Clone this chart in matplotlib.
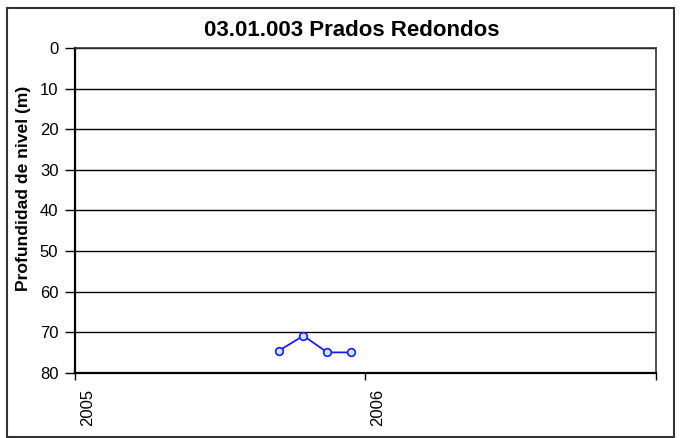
import numpy as np
import pandas as pd
import matplotlib
matplotlib.use('Agg')
import matplotlib.pyplot as plt
import matplotlib.transforms as mtransforms
from matplotlib.patches import Rectangle

plt.rcParams['font.family'] = ['Liberation Sans', 'DejaVu Sans']

title = '03.01.003 Prados Redondos'
ylabel = 'Profundidad de nivel (m)'

dates = ['2005-09-14', '2005-10-15', '2005-11-14', '2005-12-14']
depths = [74.6, 70.9, 75.0, 75.0]

x_ticks = ['2005-01-01', '2006-01-01', '2007-01-01']
x_ticklabels = ['2005', '2006', '']
y_ticks = [0, 10, 20, 30, 40, 50, 60, 70, 80]

dates = pd.to_datetime(dates)
x_ticks = pd.to_datetime(x_ticks)

fig = plt.figure(figsize=(6.83, 4.38), dpi=100)
ax = fig.add_axes([75/683, 1 - 372.7/438, (656 - 75)/683, (372.7 - 48)/438])

for y in y_ticks[:-1]:
    ax.axhline(y, color='black', linewidth=1.0, zorder=1)

ax.plot(dates, depths, color='#1a1aff', linewidth=1.3, marker='o', markersize=5.5,
        markerfacecolor='#c8ecff', markeredgecolor='#1a1aff', markeredgewidth=1.2, zorder=3)

ax.set_xlim(x_ticks[0], x_ticks[-1])
ax.set_ylim(80, 0)
ax.set_yticks(y_ticks)
ax.set_yticklabels([str(v) for v in y_ticks], fontsize=12)
ax.set_xticks(x_ticks)
ax.set_xticklabels(x_ticklabels, fontsize=12, rotation=90, ha='left', va='top')
ax.tick_params(axis='y', direction='out', length=7, width=1, pad=5)
ax.tick_params(axis='x', direction='out', length=5, width=1, pad=7)

# nudge rotated year labels a bit to the right, as in the original
offset = mtransforms.ScaledTranslation(5/100, 0, fig.dpi_scale_trans)
for lab in ax.get_xticklabels():
    lab.set_transform(lab.get_transform() + offset)

for side in ['left', 'bottom']:
    ax.spines[side].set_linewidth(1.6)
    ax.spines[side].set_color('black')
for side in ['top', 'right']:
    ax.spines[side].set_linewidth(1.2)
    ax.spines[side].set_color('#333333')

fig.text(24/683, 1 - 188/438, ylabel, fontsize=12.6, fontweight='bold', rotation=90,
         ha='center', va='center')
fig.text(352/683, 1 - 30/438, title, fontsize=16, fontweight='bold', ha='center', va='center')

fig.patches.append(Rectangle((7/683, 1/438), 667/683, 429/438, transform=fig.transFigure,
                             fill=False, edgecolor='#333333', linewidth=1.5))

fig.savefig('out.png', dpi=100)
